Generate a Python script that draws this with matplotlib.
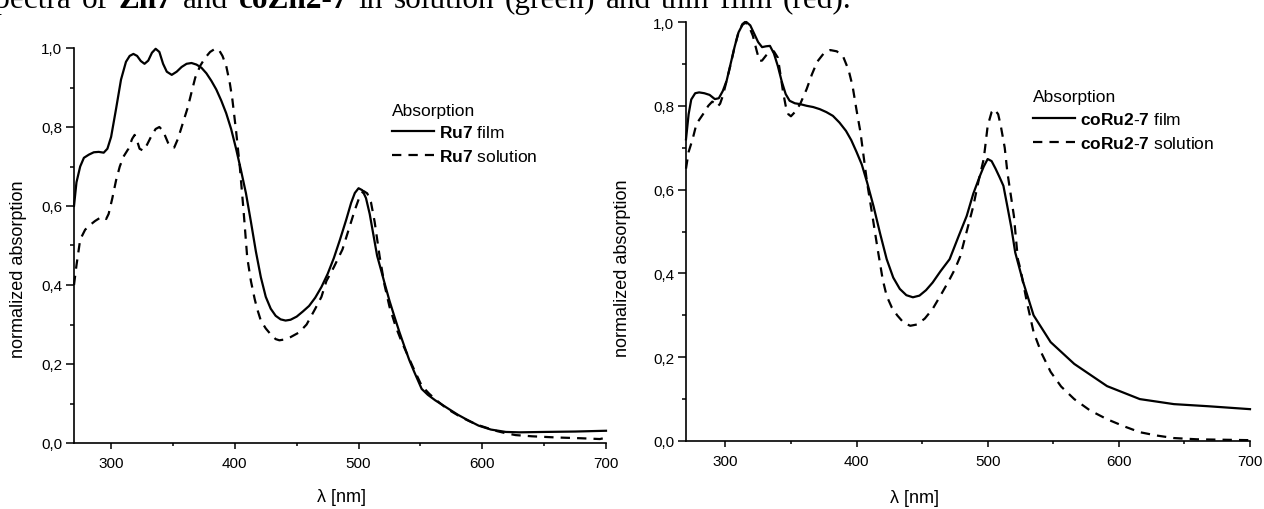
import matplotlib
matplotlib.use("Agg")
import matplotlib.pyplot as plt
from matplotlib.text import Annotation
from matplotlib.ticker import MultipleLocator, FuncFormatter

plt.rcParams['font.family'] = ['Liberation Sans', 'DejaVu Sans']
plt.rcParams['mathtext.fontset'] = 'custom'
plt.rcParams['mathtext.rm'] = 'Liberation Sans'
plt.rcParams['mathtext.bf'] = 'Liberation Sans:bold'

# ---------------- data ----------------
ru7_film_wl = [270, 272, 275, 278, 282, 286, 290, 294, 297, 300, 304, 308, 312, 315, 318, 321, 324, 327,
               330, 333, 336, 339, 342, 345, 349, 353, 357, 361, 365, 369, 373, 377, 381, 385, 389, 393,
               397, 401, 405, 409, 413, 417, 421, 425, 429, 433, 437, 441, 445, 450, 455, 460, 465, 470,
               475, 480, 485, 490, 494, 497, 500, 503, 506, 509, 512, 515, 518, 521, 525, 529, 533, 537,
               541, 545, 551, 556, 562, 568, 573, 580, 587, 597, 607, 619, 630, 650, 675, 700]
ru7_film_abs = [0.60, 0.66, 0.70, 0.722, 0.730, 0.736, 0.737, 0.735, 0.745, 0.775, 0.846, 0.92, 0.965, 0.980,
                0.985, 0.980, 0.967, 0.960, 0.968, 0.988, 0.998, 0.990, 0.960, 0.940, 0.932, 0.940, 0.952,
                0.960, 0.962, 0.958, 0.950, 0.936, 0.917, 0.895, 0.867, 0.835, 0.795, 0.745, 0.690, 0.632,
                0.560, 0.485, 0.420, 0.370, 0.340, 0.322, 0.313, 0.310, 0.312, 0.320, 0.333, 0.347, 0.368,
                0.395, 0.428, 0.468, 0.515, 0.565, 0.608, 0.633, 0.645, 0.640, 0.620, 0.580, 0.527, 0.474,
                0.440, 0.405, 0.360, 0.320, 0.281, 0.245, 0.210, 0.180, 0.137, 0.122, 0.108, 0.096, 0.086,
                0.072, 0.060, 0.044, 0.034, 0.028, 0.027, 0.028, 0.029, 0.031]

ru7_sol_wl = [270, 272, 275, 279, 283, 287, 291, 294, 296, 298, 301, 304, 307, 310, 314, 317, 319, 321, 323,
              326, 329, 333, 336, 339, 342, 346, 349, 351, 354, 358, 362, 365, 368, 372, 376, 380, 384, 387,
              390, 393, 396, 398, 401, 404, 407, 410, 413, 416, 418, 421, 425, 429, 433, 436, 440, 445, 452,
              458, 465, 470, 474, 480, 487, 492, 497, 501, 504, 507, 510, 513, 517, 521, 525, 530, 535, 540,
              545, 551, 557, 563, 569, 575, 582, 589, 596, 603, 612, 620, 627, 640, 660, 680, 695, 698, 700]
ru7_sol_abs = [0.40, 0.45, 0.515, 0.540, 0.552, 0.562, 0.570, 0.572, 0.567, 0.580, 0.620, 0.665, 0.700, 0.725,
               0.745, 0.770, 0.780, 0.765, 0.745, 0.740, 0.755, 0.780, 0.795, 0.800, 0.790, 0.760, 0.748,
               0.748, 0.770, 0.810, 0.850, 0.888, 0.925, 0.955, 0.975, 0.990, 0.998, 0.996, 0.980, 0.955,
               0.910, 0.870, 0.790, 0.700, 0.590, 0.470, 0.410, 0.365, 0.340, 0.310, 0.290, 0.275, 0.263,
               0.260, 0.262, 0.268, 0.280, 0.300, 0.340, 0.370, 0.410, 0.445, 0.490, 0.540, 0.590, 0.625,
               0.638, 0.632, 0.610, 0.560, 0.473, 0.400, 0.345, 0.295, 0.255, 0.220, 0.185, 0.145, 0.125,
               0.108, 0.093, 0.080, 0.067, 0.056, 0.046, 0.039, 0.030, 0.024, 0.020, 0.017, 0.014, 0.012,
               0.010, 0.012, 0.020]

coru_film_wl = [270, 272, 274, 277, 280, 284, 288, 292, 295, 298, 301, 304, 307, 310, 313, 316, 319, 322, 325,
                328, 331, 334, 337, 340, 343, 346, 349, 353, 357, 362, 367, 372, 377, 382, 387, 392, 396,
                400, 404, 408, 413, 418, 423, 428, 433, 438, 443, 448, 453, 458, 464, 471, 478, 484, 489,
                494, 497, 500, 503, 506, 509, 512, 515, 518, 521, 527, 535, 548, 566, 591, 616, 642, 668, 700]
coru_film_abs = [0.72, 0.78, 0.815, 0.830, 0.832, 0.830, 0.826, 0.816, 0.818, 0.835, 0.860, 0.900, 0.940,
                 0.975, 0.993, 1.000, 0.992, 0.972, 0.952, 0.940, 0.942, 0.943, 0.925, 0.895, 0.858, 0.828,
                 0.812, 0.806, 0.804, 0.800, 0.797, 0.792, 0.785, 0.776, 0.760, 0.740, 0.718, 0.690, 0.660,
                 0.618, 0.560, 0.495, 0.434, 0.390, 0.363, 0.348, 0.343, 0.347, 0.360, 0.378, 0.405, 0.434,
                 0.490, 0.537, 0.590, 0.632, 0.655, 0.673, 0.668, 0.650, 0.630, 0.609, 0.560, 0.510, 0.450,
                 0.380, 0.300, 0.236, 0.184, 0.131, 0.100, 0.088, 0.083, 0.076]

coru_sol_wl = [270, 272, 275, 278, 283, 287, 290, 292, 294, 296, 298, 301, 304, 307, 310, 313, 315, 318, 321,
               324, 326, 328, 331, 334, 337, 340, 342, 344, 346, 348, 350, 353, 357, 362, 366, 370, 375, 380,
               385, 390, 394, 397, 400, 403, 408, 412, 416, 420, 423, 427, 431, 436, 441, 446, 452, 458, 464,
               470, 475, 479, 484, 489, 493, 497, 500, 503, 505, 508, 510, 513, 515, 520, 523, 525, 530, 535,
               541, 548, 556, 566, 578, 591, 604, 616, 629, 642, 660, 680, 700]
coru_sol_abs = [0.650, 0.690, 0.720, 0.757, 0.780, 0.800, 0.810, 0.806, 0.798, 0.805, 0.823, 0.860, 0.898,
                0.940, 0.975, 0.995, 1.000, 0.990, 0.967, 0.930, 0.907, 0.908, 0.920, 0.930, 0.930, 0.915,
                0.875, 0.833, 0.800, 0.780, 0.775, 0.785, 0.804, 0.840, 0.875, 0.905, 0.925, 0.933, 0.930,
                0.916, 0.885, 0.847, 0.790, 0.737, 0.618, 0.540, 0.460, 0.385, 0.346, 0.318, 0.300, 0.282,
                0.275, 0.278, 0.292, 0.315, 0.347, 0.380, 0.410, 0.440, 0.500, 0.560, 0.620, 0.673, 0.752,
                0.785, 0.792, 0.780, 0.752, 0.700, 0.642, 0.537, 0.434, 0.410, 0.330, 0.260, 0.210, 0.165,
                0.130, 0.100, 0.073, 0.052, 0.035, 0.021, 0.013, 0.007, 0.004, 0.003, 0.002]

x_ticks = [300, 400, 500, 600, 700]
y_ticks = [0.0, 0.2, 0.4, 0.6, 0.8, 1.0]

left_labels = [r"$\mathbf{Ru7}$ film", r"$\mathbf{Ru7}$ solution"]
right_labels = [r"$\mathbf{coRu2\text{-}7}$ film", r"$\mathbf{coRu2\text{-}7}$ solution"]
caption_words = [("spectra", "normal"), ("of", "normal"), ("Zn7", "bold"), ("and", "normal"),
                 ("coZn2-7", "bold"), ("in", "normal"), ("solution", "normal"), ("(green)", "normal"),
                 ("and", "normal"), ("thin", "normal"), ("film", "normal"), ("(red).", "normal")]

# ---------------- figure ----------------
W, H = 1264, 510
fig = plt.figure(figsize=(W / 100, H / 100), dpi=100)

def px_axes(x0, y0, x1, y1):
    return fig.add_axes([x0 / W, (H - y1) / H, (x1 - x0) / W, (y1 - y0) / H])

ax1 = px_axes(74, 49, 606, 444)
ax2 = px_axes(686, 23, 1250, 442)

comma = FuncFormatter(lambda v, p: f"{v:.1f}".replace(".", ","))
dash = (0, (4.2, 3.2))

def style(ax):
    ax.set_xlim(270, 700)
    ax.set_ylim(0, 1.0)
    ax.spines['top'].set_visible(False)
    ax.spines['right'].set_visible(False)
    for s in ('left', 'bottom'):
        ax.spines[s].set_linewidth(1.2)
    ax.set_xticks(x_ticks)
    ax.set_yticks(y_ticks)
    ax.xaxis.set_minor_locator(MultipleLocator(50))
    ax.yaxis.set_minor_locator(MultipleLocator(0.1))
    ax.yaxis.set_major_formatter(comma)
    ax.tick_params(which='major', direction='out', length=5.5, width=1.1, labelsize=11, pad=3)
    ax.tick_params(which='minor', direction='out', length=3, width=1.1)
    ax.tick_params(axis='x', which='major', length=4.5, pad=5)
    ax.tick_params(axis='x', which='minor', length=2.5)

for ax in (ax1, ax2):
    style(ax)

ax1.plot(ru7_film_wl, ru7_film_abs, color='black', lw=1.6, label=left_labels[0], clip_on=False)
ax1.plot(ru7_sol_wl, ru7_sol_abs, color='black', lw=1.6, ls=dash, label=left_labels[1], clip_on=False)
ax2.plot(coru_film_wl, coru_film_abs, color='black', lw=1.6, label=right_labels[0], clip_on=False)
ax2.plot(coru_sol_wl, coru_sol_abs, color='black', lw=1.6, ls=dash, label=right_labels[1], clip_on=False)

ax1.set_ylabel("normalized absorption", fontsize=13)
ax1.yaxis.set_label_coords(-0.088, 0.443)
ax1.set_xlabel("λ [nm]", fontsize=13)
ax1.xaxis.set_label_coords(0.502, -0.113)

ax2.set_ylabel("normalized absorption", fontsize=13)
ax2.yaxis.set_label_coords(-0.097, 0.415)
ax2.set_xlabel("λ [nm]", fontsize=13)
ax2.xaxis.set_label_coords(0.406, -0.115)

leg_kw = dict(frameon=False, fontsize=12.5, title_fontsize=12.5, loc='upper left',
              borderpad=0, borderaxespad=0, handlelength=2.4, handletextpad=0.3,
              labelspacing=0.45, alignment='left')
l1 = ax1.legend(title="Absorption", bbox_to_anchor=(0.598, 0.862), **leg_kw)
l2 = ax2.legend(title="Absorption", bbox_to_anchor=(0.616, 0.840), **leg_kw)
for lg in (l1, l2):
    lg._legend_box.sep = 5

# caption line of the page, cropped at the top edge of the image
cap_size = 22.5
gap_pt = 7.5
ref = fig.text(-17 / W, 1 - 8 / H, caption_words[0][0], family='Liberation Serif',
               fontsize=cap_size, fontweight=caption_words[0][1], va='baseline', ha='left')
for word, wt in caption_words[1:]:
    ref = fig.add_artist(Annotation(
        word, xy=(1, 0), xycoords=ref, xytext=(gap_pt, 0), textcoords='offset points',
        family='Liberation Serif', fontsize=cap_size, fontweight=wt, va='bottom', ha='left'))

fig.savefig("out.png", dpi=100)
